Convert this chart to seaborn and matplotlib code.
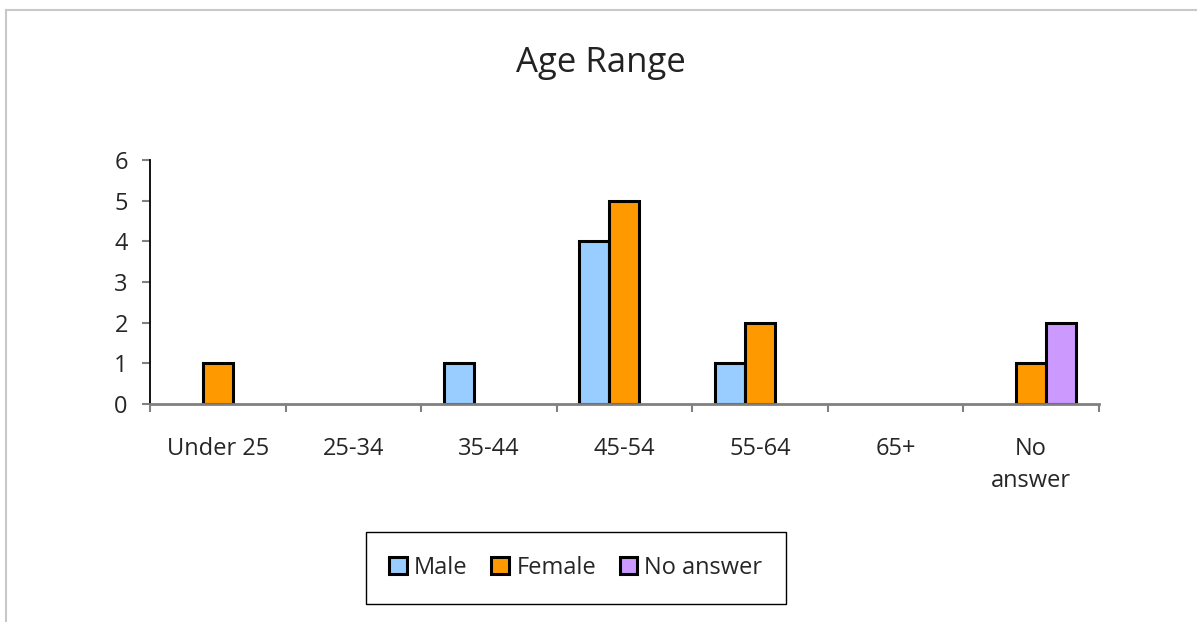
import matplotlib
matplotlib.use("Agg")
import matplotlib.pyplot as plt
from matplotlib.patches import Rectangle
import pandas as pd
import seaborn as sns

# Survey responses by age range
age_ranges = ["Under 25", "25-34", "35-44", "45-54", "55-64", "65+", "No\nanswer"]
male = [0, 0, 1, 4, 1, 0, 0]
female = [1, 0, 0, 5, 2, 0, 1]
no_answer = [0, 0, 0, 0, 0, 0, 2]

series_names = ["Male", "Female", "No answer"]
series_colors = ["#99CCFF", "#FF9900", "#CC99FF"]

sns.set_theme(style="white")
plt.rcParams["font.family"] = ["Open Sans", "DejaVu Sans"]

rows = []
for name, values in zip(series_names, [male, female, no_answer]):
    for cat, v in zip(age_ranges, values):
        if v > 0:  # empty groups draw no bar
            rows.append({"Age": cat, "Gender": name, "Count": v})
df = pd.DataFrame(rows)

fig = plt.figure(figsize=(11.97, 6.22), dpi=100)
ax = fig.add_axes([0.1253, 0.3505, 0.7928, 0.3923])

sns.barplot(
    data=df, x="Age", y="Count", hue="Gender",
    order=age_ranges, hue_order=series_names,
    palette=series_colors, width=0.664, dodge=True,
    edgecolor="black", linewidth=2.2, saturation=1, ax=ax,
)

ax.set_xlim(-0.5, len(age_ranges) - 0.5)
ax.set_ylim(0, 6)
ax.set_yticks(range(0, 7))
ax.set_xlabel("")
ax.set_ylabel("")

# category boundary ticks on the x axis
ax.set_xticks([i - 0.5 for i in range(len(age_ranges) + 1)], minor=True)
ax.set_xticks(range(len(age_ranges)))
ax.set_xticklabels(age_ranges, fontsize=17, linespacing=1.45)
ax.tick_params(axis="x", which="major", length=0, pad=24)
ax.tick_params(axis="x", which="minor", length=6, width=1.5, color="#808080", direction="out", bottom=True)
ax.tick_params(axis="y", length=6, width=1.5, color="#808080", direction="out", labelsize=17, pad=10, left=True)

for side in ["top", "right"]:
    ax.spines[side].set_visible(False)
ax.spines["left"].set_color("black")
ax.spines["left"].set_linewidth(1.3)
ax.spines["bottom"].set_color("#808080")
ax.spines["bottom"].set_linewidth(2)

fig.text(0.502, 0.898, "Age Range", ha="center", va="center", fontsize=25, color="#222222")

handles, labels = ax.get_legend_handles_labels()
ax.legend_.remove()
leg = fig.legend(
    handles, labels, loc="center", bbox_to_anchor=(0.4812, 0.0868),
    ncol=3, fontsize=17, frameon=True, fancybox=False, edgecolor="black",
    framealpha=1, handlelength=0.75, handleheight=0.75, handletextpad=0.3,
    columnspacing=1.0, borderpad=1.0,
)
leg.get_frame().set_linewidth(1.0)

# light outer chart-area border
fig.patches.append(Rectangle((0.005, -0.2), 1.2, 1.184, transform=fig.transFigure,
                             fill=False, edgecolor="#c8c8c8", linewidth=1.5))

fig.savefig("out.png", dpi=100, facecolor="white")
